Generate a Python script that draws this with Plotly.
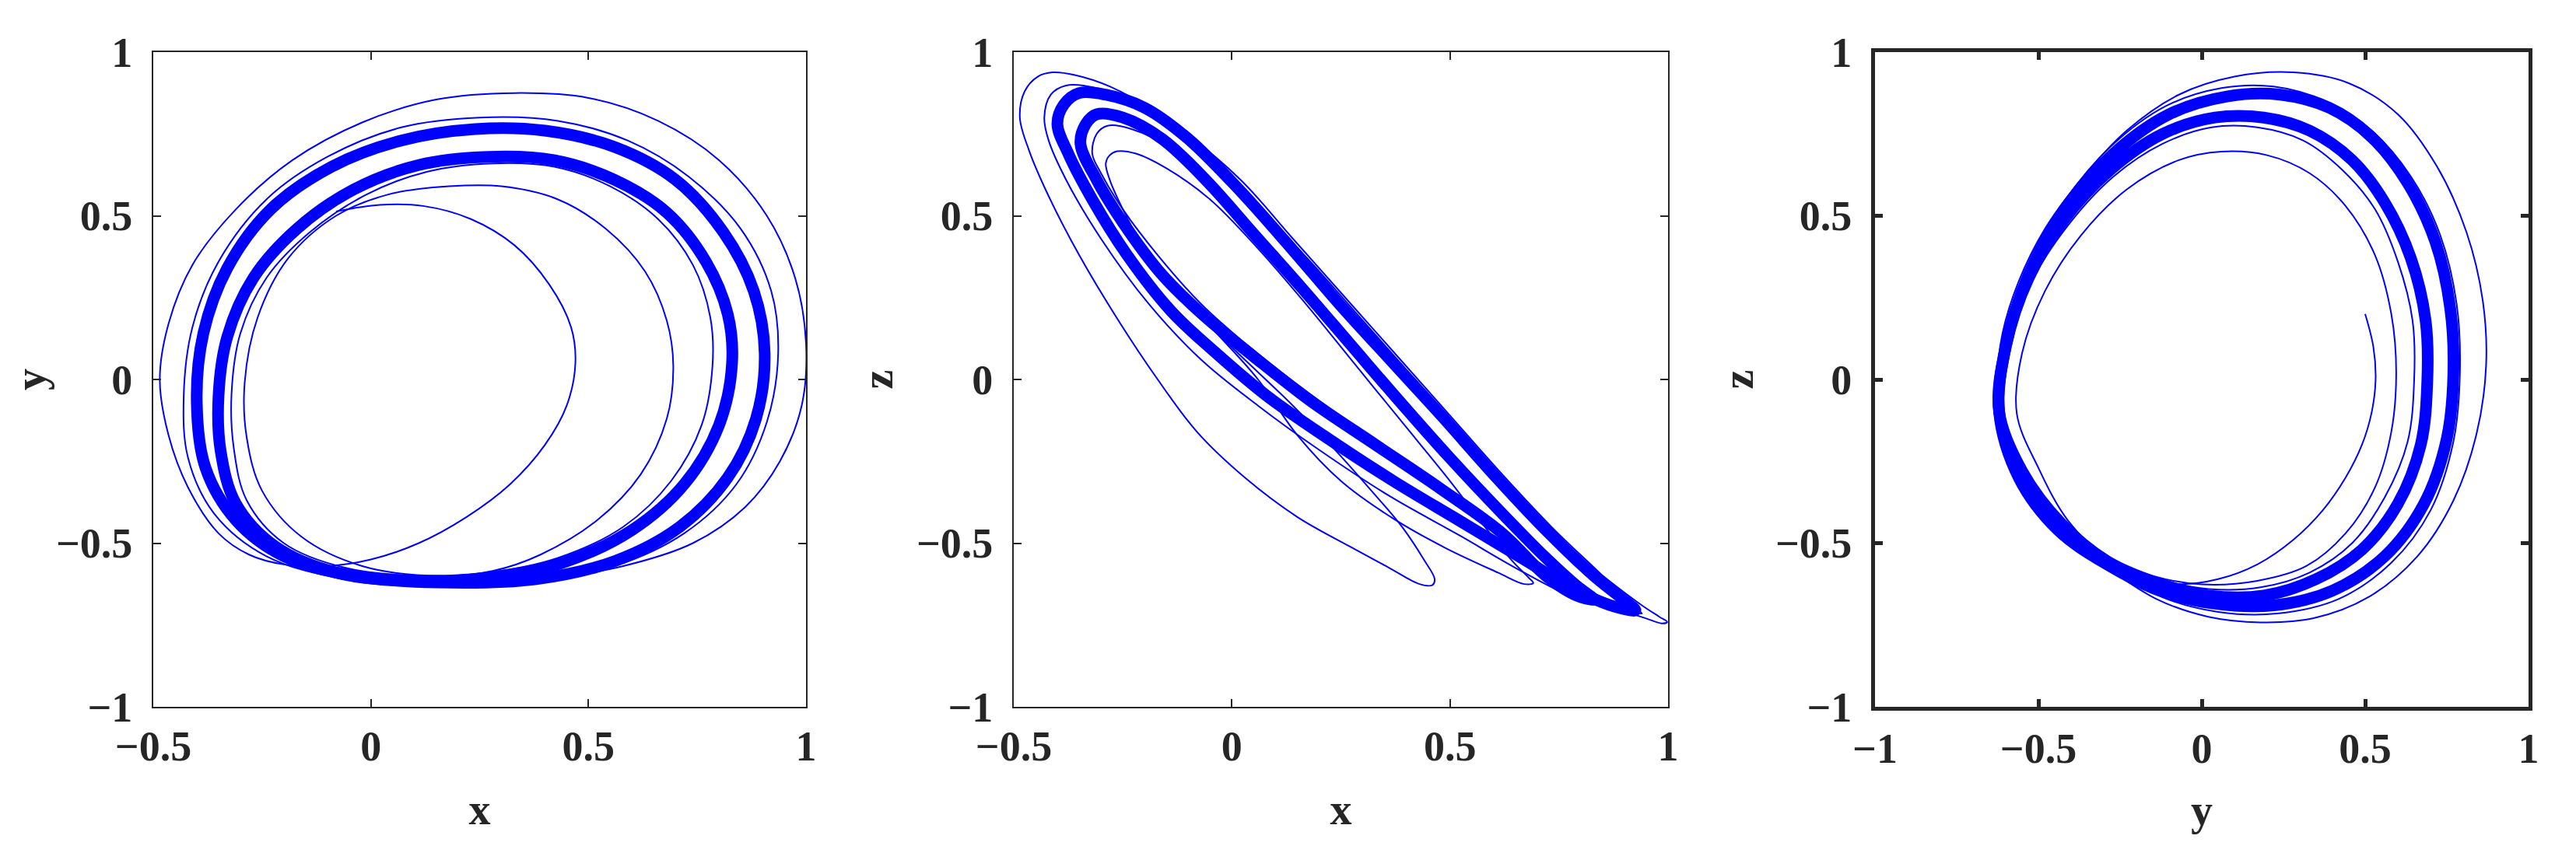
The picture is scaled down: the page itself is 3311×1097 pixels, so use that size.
import plotly.graph_objects as go

BLUE = "#0000ff"
INK = "#262626"
FONT = "Liberation Serif"

# ---------------- panel 1 : x - y ----------------
XY_O_X = [0.15, -0.04, -0.20, -0.31, -0.38, -0.40, -0.385, -0.33, -0.23, -0.09, 0.07, 0.24, 0.40, 0.56, 0.70, 0.81, 0.88, 0.905, 0.885, 0.82, 0.71, 0.56, 0.38]
XY_O_Y = [-0.62, -0.60, -0.54, -0.43, -0.27, -0.07, 0.14, 0.34, 0.52, 0.65, 0.73, 0.765, 0.76, 0.71, 0.61, 0.45, 0.27, 0.08, -0.12, -0.30, -0.45, -0.555, -0.61]
XY_I_X = [0.10, -0.08, -0.22, -0.31, -0.345, -0.35, -0.33, -0.27, -0.17, -0.04, 0.11, 0.27, 0.42, 0.56, 0.68, 0.77, 0.82, 0.83, 0.80, 0.72, 0.60, 0.44, 0.27]
XY_I_Y = [-0.615, -0.59, -0.51, -0.38, -0.22, -0.05, 0.13, 0.31, 0.46, 0.58, 0.655, 0.68, 0.67, 0.61, 0.51, 0.36, 0.20, 0.05, -0.14, -0.32, -0.46, -0.56, -0.605]
XY_T2_X = [0.15, -0.06, -0.24, -0.36, -0.42, -0.43, -0.41, -0.35, -0.24, -0.10, 0.07, 0.25, 0.43, 0.59, 0.73, 0.85, 0.92, 0.936, 0.91, 0.84, 0.72, 0.56, 0.37]
XY_T2_Y = [-0.63, -0.61, -0.54, -0.41, -0.24, -0.05, 0.16, 0.36, 0.55, 0.68, 0.77, 0.80, 0.79, 0.73, 0.62, 0.46, 0.27, 0.08, -0.13, -0.32, -0.47, -0.57, -0.62]
XY_T3_X = [0.12, -0.06, -0.20, -0.285, -0.315, -0.32, -0.30, -0.24, -0.14, -0.01, 0.13, 0.28, 0.42, 0.55, 0.66, 0.74, 0.78, 0.785, 0.76, 0.69, 0.58, 0.43, 0.27]
XY_T3_Y = [-0.60, -0.575, -0.50, -0.37, -0.21, -0.04, 0.14, 0.31, 0.45, 0.565, 0.635, 0.66, 0.65, 0.59, 0.49, 0.35, 0.19, 0.04, -0.14, -0.31, -0.45, -0.545, -0.59]
XY_T4_X = [0.16, -0.02, -0.16, -0.25, -0.285, -0.29, -0.26, -0.19, -0.08, 0.04, 0.18, 0.30, 0.43, 0.54, 0.63, 0.68, 0.695, 0.68, 0.62, 0.52, 0.39, 0.28]
XY_T4_Y = [-0.60, -0.57, -0.48, -0.34, -0.18, -0.01, 0.19, 0.37, 0.50, 0.565, 0.59, 0.59, 0.55, 0.46, 0.33, 0.18, 0.04, -0.12, -0.29, -0.43, -0.535, -0.585]
XY_TR_X = [-0.08, 0.02, 0.12, 0.23, 0.33, 0.41, 0.46, 0.47, 0.45, 0.40, 0.32, 0.22, 0.11, 0.0, -0.10, -0.20, -0.28, -0.35, -0.42, -0.465,
           -0.485, -0.465, -0.41, -0.31, -0.18, -0.02, 0.15, 0.33, 0.50, 0.66, 0.80, 0.91, 0.975, 1.0, 0.99, 0.94, 0.86, 0.74, 0.58, 0.40, 0.20, 0.02]
XY_TR_Y = [0.513, 0.533, 0.53, 0.49, 0.41, 0.29, 0.16, 0.05, -0.08, -0.20, -0.32, -0.42, -0.50, -0.55, -0.57, -0.565, -0.535, -0.47, -0.33, -0.17,
           0.0, 0.17, 0.35, 0.52, 0.67, 0.785, 0.855, 0.875, 0.86, 0.79, 0.67, 0.50, 0.31, 0.11, -0.08, -0.25, -0.39, -0.50, -0.57, -0.61, -0.63, -0.625]

# ---------------- panel 2 : x - z ----------------
XZ_O_X = [-0.40, -0.385, -0.35, -0.29, -0.20, -0.10, 0.02, 0.14, 0.25, 0.37, 0.48, 0.60, 0.72, 0.83, 0.90, 0.925,
          0.88, 0.79, 0.67, 0.52, 0.37, 0.22, 0.08, -0.04, -0.14, -0.24, -0.32, -0.375]
XZ_O_Z = [0.78, 0.84, 0.875, 0.87, 0.83, 0.735, 0.575, 0.395, 0.225, 0.05, -0.11, -0.29, -0.46, -0.60, -0.675, -0.705,
          -0.695, -0.645, -0.55, -0.43, -0.31, -0.18, -0.05, 0.085, 0.21, 0.38, 0.55, 0.69]
XZ_I_X = [-0.347, -0.335, -0.31, -0.25, -0.16, -0.06, 0.05, 0.16, 0.27, 0.38, 0.50, 0.62, 0.72, 0.79, 0.83,
          0.79, 0.72, 0.62, 0.48, 0.33, 0.18, 0.05, -0.06, -0.16, -0.25, -0.31]
XZ_I_Z = [0.72, 0.78, 0.81, 0.80, 0.735, 0.61, 0.445, 0.28, 0.11, -0.06, -0.24, -0.41, -0.545, -0.63, -0.672,
          -0.66, -0.60, -0.47, -0.335, -0.20, -0.065, 0.07, 0.19, 0.32, 0.48, 0.61]
XZ_T2_X = [-0.43, -0.415, -0.38, -0.31, -0.21, -0.10, 0.02, 0.14, 0.26, 0.38, 0.50, 0.62, 0.74, 0.85, 0.915, 0.94,
           0.90, 0.80, 0.67, 0.52, 0.36, 0.20, 0.06, -0.07, -0.19, -0.30, -0.38, -0.42]
XZ_T2_Z = [0.80, 0.87, 0.898, 0.89, 0.84, 0.745, 0.61, 0.43, 0.25, 0.07, -0.11, -0.29, -0.46, -0.60, -0.69, -0.715,
           -0.705, -0.675, -0.59, -0.475, -0.355, -0.215, -0.08, 0.06, 0.23, 0.43, 0.61, 0.73]
XZ_T3_X = [-0.32, -0.31, -0.285, -0.23, -0.14, -0.04, 0.07, 0.18, 0.29, 0.40, 0.52, 0.63, 0.72, 0.77, 0.785,
           0.75, 0.68, 0.58, 0.45, 0.31, 0.17, 0.04, -0.07, -0.17, -0.25, -0.30]
XZ_T3_Z = [0.69, 0.75, 0.775, 0.765, 0.705, 0.58, 0.415, 0.25, 0.08, -0.09, -0.27, -0.43, -0.56, -0.62, -0.64,
           -0.62, -0.55, -0.43, -0.30, -0.17, -0.035, 0.10, 0.23, 0.38, 0.52, 0.63]
XZ_T4_X = [-0.289, -0.28, -0.263, -0.22, -0.15, -0.05, 0.06, 0.17, 0.28, 0.39, 0.50, 0.58, 0.64, 0.68, 0.691,
           0.67, 0.61, 0.49, 0.37, 0.25, 0.15, 0.06, -0.02, -0.09, -0.15, -0.205, -0.25, -0.28]
XZ_T4_Z = [0.66, 0.685, 0.697, 0.69, 0.645, 0.55, 0.40, 0.23, 0.05, -0.13, -0.31, -0.45, -0.55, -0.605, -0.622,
           -0.625, -0.59, -0.515, -0.425, -0.31, -0.17, 0.0, 0.12, 0.22, 0.31, 0.41, 0.52, 0.61]
XZ_TR_X = [-0.08, 0.03, 0.14, 0.24, 0.32, 0.39, 0.44, 0.465, 0.46, 0.43, 0.36, 0.27, 0.15, 0.03, -0.08, -0.17, -0.26, -0.35, -0.42, -0.465,
           -0.486, -0.475, -0.445, -0.411, -0.36, -0.28, -0.18, -0.06, 0.06, 0.18, 0.30, 0.42, 0.54, 0.66, 0.76, 0.86, 0.94, 0.98, 0.998, 0.985, 0.95, 0.88]
XZ_TR_Z = [0.20, 0.06, -0.08, -0.22, -0.34, -0.45, -0.55, -0.61, -0.628, -0.625, -0.575, -0.51, -0.42, -0.30, -0.16, 0.0, 0.18, 0.38, 0.56, 0.70,
           0.80, 0.88, 0.925, 0.938, 0.93, 0.895, 0.82, 0.69, 0.53, 0.36, 0.18, 0.0, -0.18, -0.36, -0.50, -0.61, -0.69, -0.725, -0.741, -0.745, -0.73, -0.70]

# ---------------- panel 3 : y - z ----------------
YZ_O_Y = [-0.62, -0.60, -0.53, -0.42, -0.27, -0.10, 0.08, 0.24, 0.39, 0.52, 0.63, 0.715, 0.76, 0.77, 0.75, 0.68, 0.56, 0.40, 0.22, 0.04, -0.13, -0.29, -0.44, -0.56]
YZ_O_Z = [-0.10, 0.10, 0.32, 0.52, 0.69, 0.81, 0.865, 0.87, 0.83, 0.74, 0.60, 0.42, 0.22, 0.02, -0.18, -0.38, -0.54, -0.645, -0.69, -0.685, -0.645, -0.565, -0.46, -0.30]
YZ_I_Y = [-0.62, -0.60, -0.53, -0.42, -0.28, -0.12, 0.04, 0.19, 0.33, 0.46, 0.56, 0.64, 0.685, 0.69, 0.67, 0.60, 0.49, 0.35, 0.19, 0.02, -0.14, -0.29, -0.43, -0.55]
YZ_I_Z = [-0.10, 0.10, 0.31, 0.49, 0.64, 0.75, 0.80, 0.80, 0.76, 0.67, 0.54, 0.37, 0.18, -0.01, -0.20, -0.38, -0.52, -0.61, -0.66, -0.66, -0.62, -0.555, -0.44, -0.28]
YZ_T2_Y = [-0.62, -0.605, -0.54, -0.43, -0.28, -0.11, 0.06, 0.22, 0.38, 0.52, 0.64, 0.73, 0.78, 0.79, 0.77, 0.70, 0.58, 0.42, 0.23, 0.05, -0.12, -0.28, -0.43, -0.56]
YZ_T2_Z = [-0.10, 0.10, 0.33, 0.53, 0.71, 0.835, 0.89, 0.895, 0.85, 0.76, 0.62, 0.44, 0.23, 0.02, -0.19, -0.40, -0.56, -0.67, -0.715, -0.71, -0.665, -0.57, -0.47, -0.30]
YZ_T3_Y = [-0.61, -0.59, -0.52, -0.41, -0.27, -0.12, 0.03, 0.17, 0.31, 0.43, 0.53, 0.60, 0.645, 0.65, 0.63, 0.56, 0.46, 0.33, 0.18, 0.02, -0.13, -0.28, -0.42, -0.54]
YZ_T3_Z = [-0.10, 0.10, 0.30, 0.47, 0.62, 0.72, 0.77, 0.77, 0.73, 0.64, 0.52, 0.36, 0.18, 0.0, -0.19, -0.36, -0.50, -0.59, -0.635, -0.64, -0.61, -0.55, -0.44, -0.28]
YZ_T4_Y = [-0.566, -0.55, -0.48, -0.37, -0.23, -0.07, 0.06, 0.20, 0.33, 0.44, 0.53, 0.58, 0.595, 0.58, 0.53, 0.44, 0.32, 0.17, 0.0, -0.15, -0.29, -0.41, -0.50]
YZ_T4_Z = [-0.105, 0.08, 0.27, 0.44, 0.58, 0.67, 0.696, 0.685, 0.63, 0.53, 0.38, 0.20, 0.02, -0.16, -0.33, -0.47, -0.57, -0.615, -0.626, -0.60, -0.545, -0.43, -0.27]
YZ_TR_Y = [0.50, 0.525, 0.532, 0.52, 0.49, 0.44, 0.37, 0.28, 0.17, 0.05, -0.07, -0.18, -0.28, -0.40, -0.50, -0.57, -0.61, -0.625, -0.61, -0.56,
           -0.48, -0.37, -0.23, -0.07, 0.10, 0.28, 0.45, 0.60, 0.72, 0.81, 0.86, 0.87, 0.84, 0.77, 0.66, 0.51, 0.34, 0.18, 0.02, -0.14, -0.28]
YZ_TR_Z = [0.20, 0.10, 0.0, -0.10, -0.20, -0.30, -0.40, -0.49, -0.565, -0.61, -0.625, -0.605, -0.575, -0.47, -0.36, -0.24, -0.12, 0.0, 0.14, 0.30,
           0.46, 0.61, 0.76, 0.87, 0.925, 0.938, 0.905, 0.81, 0.65, 0.45, 0.24, 0.04, -0.17, -0.37, -0.54, -0.665, -0.73, -0.742, -0.725, -0.67, -0.58]

# ---------------- axes / ticks ----------------
X12_TICKS = [-0.5, 0, 0.5, 1]
X12_TEXT = ["\u22120.5", "0", "0.5", "1"]
FULL_TICKS = [-1, -0.5, 0, 0.5, 1]
FULL_TEXT = ["\u22121", "\u22120.5", "0", "0.5", "1"]

BAND_W = 15
THIN_W = 2

fig = go.Figure()


def add_curve(xs, ys, k, width, closed):
    xs = list(xs)
    ys = list(ys)
    if closed:
        xs = xs + xs[:1]
        ys = ys + ys[:1]
    suffix = "" if k == 1 else str(k)
    fig.add_trace(go.Scatter(
        x=xs, y=ys, mode="lines",
        line=dict(color=BLUE, width=width, shape="spline", smoothing=1.0),
        xaxis="x" + suffix, yaxis="y" + suffix,
        hoverinfo="skip", showlegend=False))


panels = [
    (1, [(XY_O_X, XY_O_Y), (XY_I_X, XY_I_Y)],
        [(XY_T2_X, XY_T2_Y), (XY_T3_X, XY_T3_Y), (XY_T4_X, XY_T4_Y)], (XY_TR_X, XY_TR_Y)),
    (2, [(XZ_O_X, XZ_O_Z), (XZ_I_X, XZ_I_Z)],
        [(XZ_T2_X, XZ_T2_Z), (XZ_T3_X, XZ_T3_Z), (XZ_T4_X, XZ_T4_Z)], (XZ_TR_X, XZ_TR_Z)),
    (3, [(YZ_O_Y, YZ_O_Z), (YZ_I_Y, YZ_I_Z)],
        [(YZ_T2_Y, YZ_T2_Z), (YZ_T3_Y, YZ_T3_Z), (YZ_T4_Y, YZ_T4_Z)], (YZ_TR_Y, YZ_TR_Z)),
]
for k, bands, thins, tr in panels:
    for xs, ys in bands:
        add_curve(xs, ys, k, BAND_W, True)
    for xs, ys in thins:
        add_curve(xs, ys, k, THIN_W, True)
    add_curve(tr[0], tr[1], k, THIN_W, False)

W, H = 3311, 1097
XDOM = [(189, 1028), (1295, 2136), (2402, 3242)]
YDOM = [1 - 901 / H, 1 - 59 / H]

tickfont = dict(family=FONT, size=54, color=INK, weight="bold")
titlefont = dict(family=FONT, size=56, color=INK, weight="bold")


def xaxis(k, rng, tv, tt, title, lw):
    return dict(domain=[XDOM[k][0] / W, XDOM[k][1] / W], anchor="y" if k == 0 else "y" + str(k + 1),
                range=rng, tickvals=tv, ticktext=tt, showline=True, linecolor=INK, linewidth=lw,
                mirror="ticks", ticks="inside", ticklen=10, tickwidth=lw, tickcolor=INK,
                showgrid=False, zeroline=False, tickfont=tickfont, ticklabelstandoff=2,
                title=dict(text=title, font=titlefont, standoff=32), automargin=False, fixedrange=True)


def yaxis(k, rng, tv, tt, title, lw):
    return dict(domain=YDOM, anchor="x" if k == 0 else "x" + str(k + 1),
                range=rng, tickvals=tv, ticktext=tt, showline=True, linecolor=INK, linewidth=lw,
                mirror="ticks", ticks="inside", ticklen=10, tickwidth=lw, tickcolor=INK,
                showgrid=False, zeroline=False, tickfont=tickfont, ticklabelstandoff=14,
                title=dict(text=title, font=titlefont, standoff=12), automargin=False, fixedrange=True)


fig.update_layout(
    width=W, height=H, margin=dict(l=0, r=0, t=0, b=0),
    paper_bgcolor="white", plot_bgcolor="white", showlegend=False,
    xaxis=xaxis(0, [-0.5, 1], X12_TICKS, X12_TEXT, "x", 2),
    yaxis=yaxis(0, [-1, 1], FULL_TICKS, FULL_TEXT, "y", 2),
    xaxis2=xaxis(1, [-0.5, 1], X12_TICKS, X12_TEXT, "x", 2),
    yaxis2=yaxis(1, [-1, 1], FULL_TICKS, FULL_TEXT, "z", 2),
    xaxis3=xaxis(2, [-1, 1], FULL_TICKS, FULL_TEXT, "y", 5),
    yaxis3=yaxis(2, [-1, 1], FULL_TICKS, FULL_TEXT, "z", 5),
)

fig.write_html("out.html")
